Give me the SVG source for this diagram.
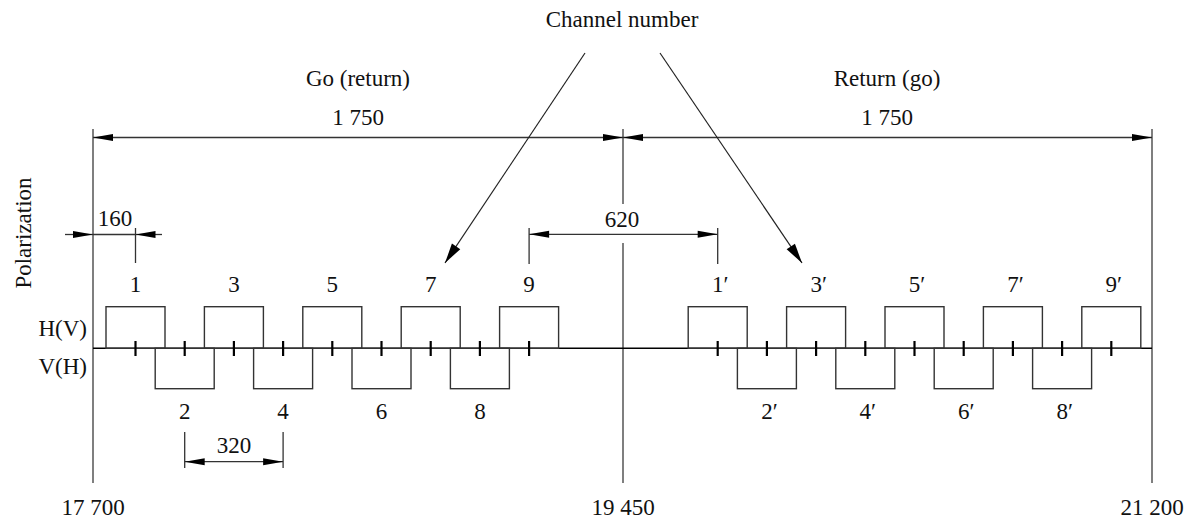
<svg xmlns="http://www.w3.org/2000/svg" width="1194" height="520" viewBox="0 0 1194 520">
<style>
text{font-family:"Liberation Serif","Times New Roman",serif;font-size:23px;fill:#111}
.c{text-anchor:middle}
.ref{stroke:#555;stroke-width:1.5;fill:none}
.box{stroke:#333;stroke-width:1.4;fill:none}
.dim{stroke:#333;stroke-width:1.3;fill:none}
.tick{stroke:#000;stroke-width:2.2}
.axis{stroke:#000;stroke-width:1.6}
.lead{stroke:#222;stroke-width:1.2;fill:none}
</style>
<defs>
<marker id="a" markerUnits="userSpaceOnUse" markerWidth="20" markerHeight="8" refX="20" refY="3.5" orient="auto-start-reverse" overflow="visible"><path d="M0,0 L20,3.5 L0,7 z" fill="#000"/></marker>
<marker id="b" markerUnits="userSpaceOnUse" markerWidth="20" markerHeight="10" refX="20" refY="5" orient="auto" overflow="visible"><path d="M0,0 L20,5 L0,10 z" fill="#000"/></marker>
</defs>
<rect width="1194" height="520" fill="#fff"/>
<g id="frame">
<line class="ref" x1="93" y1="129" x2="93" y2="483"/>
<line class="ref" x1="1152" y1="129" x2="1152" y2="483"/>
<line class="ref" x1="623" y1="129" x2="623" y2="204"/>
<line class="ref" x1="623" y1="243" x2="623" y2="483"/>
<line class="axis" x1="93" y1="348.3" x2="1152" y2="348.3"/>
</g>
<g id="labels">
<text class="c" x="622" y="27">Channel number</text>
<text class="c" x="358" y="86">Go (return)</text>
<text class="c" x="887" y="86">Return (go)</text>
<text class="c" x="358" y="125">1 750</text>
<text class="c" x="887" y="125">1 750</text>
<text class="c" x="115" y="225.5">160</text>
<text class="c" x="622" y="226.5">620</text>
<text class="c" x="234" y="453">320</text>
<text class="c" transform="translate(31,233) rotate(-90)">Polarization</text>
<text x="87" y="336" text-anchor="end">H(V)</text>
<text x="87" y="374" text-anchor="end">V(H)</text>
<text class="c" x="93" y="515">17 700</text>
<text class="c" x="623" y="515">19 450</text>
<text class="c" x="1152" y="515">21 200</text>
</g>
<g id="ch1"><rect class="box" x="106" y="306.7" width="59" height="41.6"/><line class="tick" x1="135.5" y1="341" x2="135.5" y2="356"/><text class="c" x="135.5" y="292">1</text></g>
<g id="ch2"><rect class="box" x="155.2" y="348.3" width="59" height="40.4"/><line class="tick" x1="184.7" y1="341" x2="184.7" y2="356"/><text class="c" x="184.7" y="419">2</text></g>
<g id="ch3"><rect class="box" x="204.4" y="306.7" width="59" height="41.6"/><line class="tick" x1="233.9" y1="341" x2="233.9" y2="356"/><text class="c" x="233.9" y="292">3</text></g>
<g id="ch4"><rect class="box" x="253.6" y="348.3" width="59" height="40.4"/><line class="tick" x1="283.1" y1="341" x2="283.1" y2="356"/><text class="c" x="283.1" y="419">4</text></g>
<g id="ch5"><rect class="box" x="302.8" y="306.7" width="59" height="41.6"/><line class="tick" x1="332.3" y1="341" x2="332.3" y2="356"/><text class="c" x="332.3" y="292">5</text></g>
<g id="ch6"><rect class="box" x="352" y="348.3" width="59" height="40.4"/><line class="tick" x1="381.5" y1="341" x2="381.5" y2="356"/><text class="c" x="381.5" y="419">6</text></g>
<g id="ch7"><rect class="box" x="401.2" y="306.7" width="59" height="41.6"/><line class="tick" x1="430.7" y1="341" x2="430.7" y2="356"/><text class="c" x="430.7" y="292">7</text></g>
<g id="ch8"><rect class="box" x="450.4" y="348.3" width="59" height="40.4"/><line class="tick" x1="479.9" y1="341" x2="479.9" y2="356"/><text class="c" x="479.9" y="419">8</text></g>
<g id="ch9"><rect class="box" x="499.6" y="306.7" width="59" height="41.6"/><line class="tick" x1="529.1" y1="341" x2="529.1" y2="356"/><text class="c" x="529.1" y="292">9</text></g>
<g id="ch1p"><rect class="box" x="688.2" y="306.7" width="59" height="41.6"/><line class="tick" x1="717.7" y1="341" x2="717.7" y2="356"/><text x="712" y="292">1′</text></g>
<g id="ch2p"><rect class="box" x="737.4" y="348.3" width="59" height="40.4"/><line class="tick" x1="766.9" y1="341" x2="766.9" y2="356"/><text x="761.2" y="419">2′</text></g>
<g id="ch3p"><rect class="box" x="786.6" y="306.7" width="59" height="41.6"/><line class="tick" x1="816.1" y1="341" x2="816.1" y2="356"/><text x="810.4" y="292">3′</text></g>
<g id="ch4p"><rect class="box" x="835.8" y="348.3" width="59" height="40.4"/><line class="tick" x1="865.3" y1="341" x2="865.3" y2="356"/><text x="859.6" y="419">4′</text></g>
<g id="ch5p"><rect class="box" x="885" y="306.7" width="59" height="41.6"/><line class="tick" x1="914.5" y1="341" x2="914.5" y2="356"/><text x="908.8" y="292">5′</text></g>
<g id="ch6p"><rect class="box" x="934.2" y="348.3" width="59" height="40.4"/><line class="tick" x1="963.7" y1="341" x2="963.7" y2="356"/><text x="958" y="419">6′</text></g>
<g id="ch7p"><rect class="box" x="983.4" y="306.7" width="59" height="41.6"/><line class="tick" x1="1012.9" y1="341" x2="1012.9" y2="356"/><text x="1007.2" y="292">7′</text></g>
<g id="ch8p"><rect class="box" x="1032.6" y="348.3" width="59" height="40.4"/><line class="tick" x1="1062.1" y1="341" x2="1062.1" y2="356"/><text x="1056.4" y="419">8′</text></g>
<g id="ch9p"><rect class="box" x="1081.8" y="306.7" width="59" height="41.6"/><line class="tick" x1="1111.3" y1="341" x2="1111.3" y2="356"/><text x="1105.6" y="292">9′</text></g>
<g id="connectors">
<line class="dim" x1="93" y1="137.5" x2="623" y2="137.5" marker-start="url(#a)" marker-end="url(#a)"/>
<line class="dim" x1="623" y1="137.5" x2="1152" y2="137.5" marker-start="url(#a)" marker-end="url(#a)"/>
<line class="dim" x1="135.5" y1="228" x2="135.5" y2="263"/>
<line class="dim" x1="65" y1="234.5" x2="93" y2="234.5" marker-end="url(#a)"/>
<line class="dim" x1="93" y1="234.5" x2="135.5" y2="234.5"/>
<line class="dim" x1="162" y1="234.5" x2="135.5" y2="234.5" marker-end="url(#a)"/>
<line class="dim" x1="529.1" y1="228" x2="529.1" y2="264"/>
<line class="dim" x1="717.7" y1="228" x2="717.7" y2="264"/>
<line class="dim" x1="529.1" y1="234.3" x2="717.7" y2="234.3" marker-start="url(#a)" marker-end="url(#a)"/>
<line class="dim" x1="184.7" y1="432" x2="184.7" y2="468"/>
<line class="dim" x1="283.1" y1="432" x2="283.1" y2="468"/>
<line class="dim" x1="184.7" y1="461.7" x2="283.1" y2="461.7" marker-start="url(#a)" marker-end="url(#a)"/>
<line class="lead" x1="585" y1="53" x2="445" y2="263" marker-end="url(#b)"/>
<line class="lead" x1="660" y1="53" x2="802" y2="263" marker-end="url(#b)"/>
</g>
</svg>
